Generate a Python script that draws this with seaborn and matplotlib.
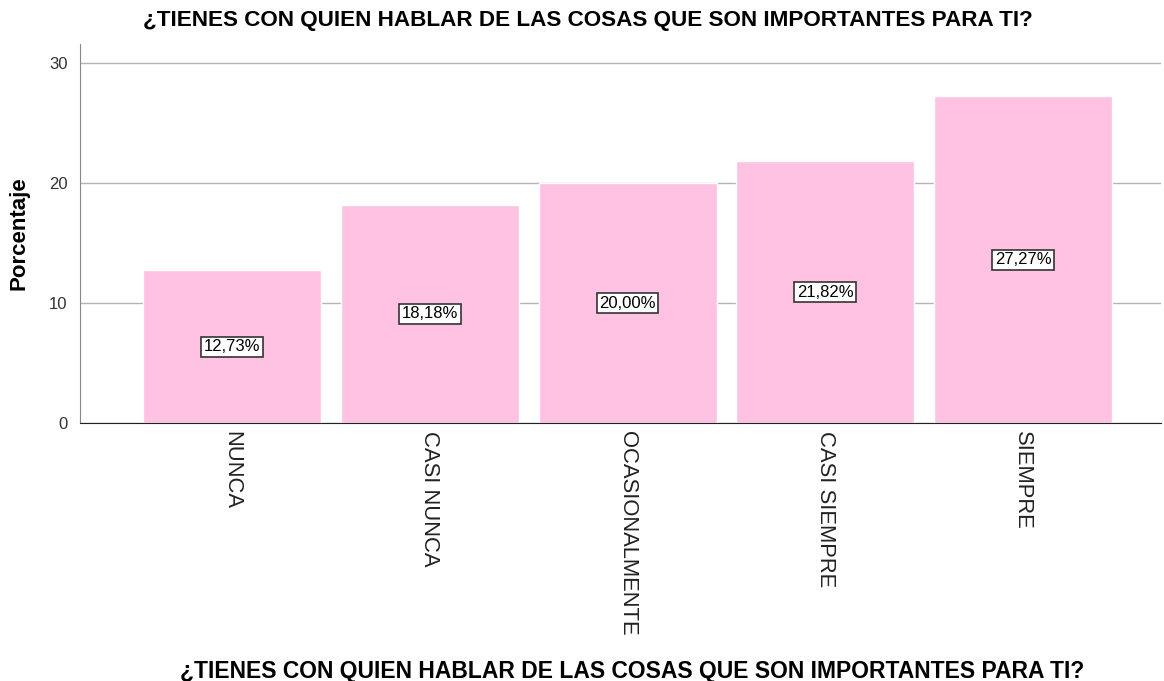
import seaborn as sns
import matplotlib.pyplot as plt
import pandas as pd

categorias = ["NUNCA", "CASI NUNCA", "OCASIONALMENTE", "CASI SIEMPRE", "SIEMPRE"]
porcentajes = [12.73, 18.18, 20.00, 21.82, 27.27]
titulo = "¿TIENES CON QUIEN HABLAR DE LAS COSAS QUE SON IMPORTANTES PARA TI?"

sns.set_style("white")
plt.rcParams['font.family'] = ['Liberation Sans', 'DejaVu Sans']

df = pd.DataFrame({'Categoria': categorias, 'Porcentaje': porcentajes})

fig = plt.figure(figsize=(11.64, 6.81), dpi=100)
ax = fig.add_axes([0.0687, 0.379, 0.929, 0.556])
ax.set_axisbelow(True)
ax.yaxis.grid(True, color='#b4b4b4', linewidth=1)
sns.barplot(data=df, x='Categoria', y='Porcentaje', color='#ffc2e2', saturation=1,
            width=0.9, ax=ax)

# etiquetas con el porcentaje en medio de cada barra
for i, v in enumerate(porcentajes):
    ax.text(i, v / 2, f"{v:.2f}%".replace('.', ','), ha='center', va='center', fontsize=12,
            color='black',
            bbox=dict(boxstyle='square,pad=0.15', facecolor='white', edgecolor='#333333', linewidth=1.2))

ax.set_ylim(0, 31.6)
ax.set_xlim(-0.77, 4.70)
ax.set_yticks([0, 10, 20, 30])
ax.tick_params(axis='y', labelsize=12, labelcolor='#333333', length=0, pad=9)
ax.tick_params(axis='x', labelsize=15.8, labelcolor='#222222', length=0, pad=6)
plt.setp(ax.get_xticklabels(), rotation=-90, va='top')

for s in ['top', 'right']:
    ax.spines[s].set_visible(False)
ax.spines['left'].set_color('#888888')
ax.spines['bottom'].set_color('#222222')

ax.set_ylabel("Porcentaje", fontsize=16, fontweight='bold', color='black', labelpad=14)
ax.set_xlabel(titulo, fontsize=16.5, fontweight='bold', color='black')
ax.xaxis.set_label_coords(0.511, -0.625)
fig.text(0.505, 0.955, titulo, ha='center', va='bottom', fontsize=16.2, fontweight='bold', color='black')

plt.savefig('out.png', dpi=100)
